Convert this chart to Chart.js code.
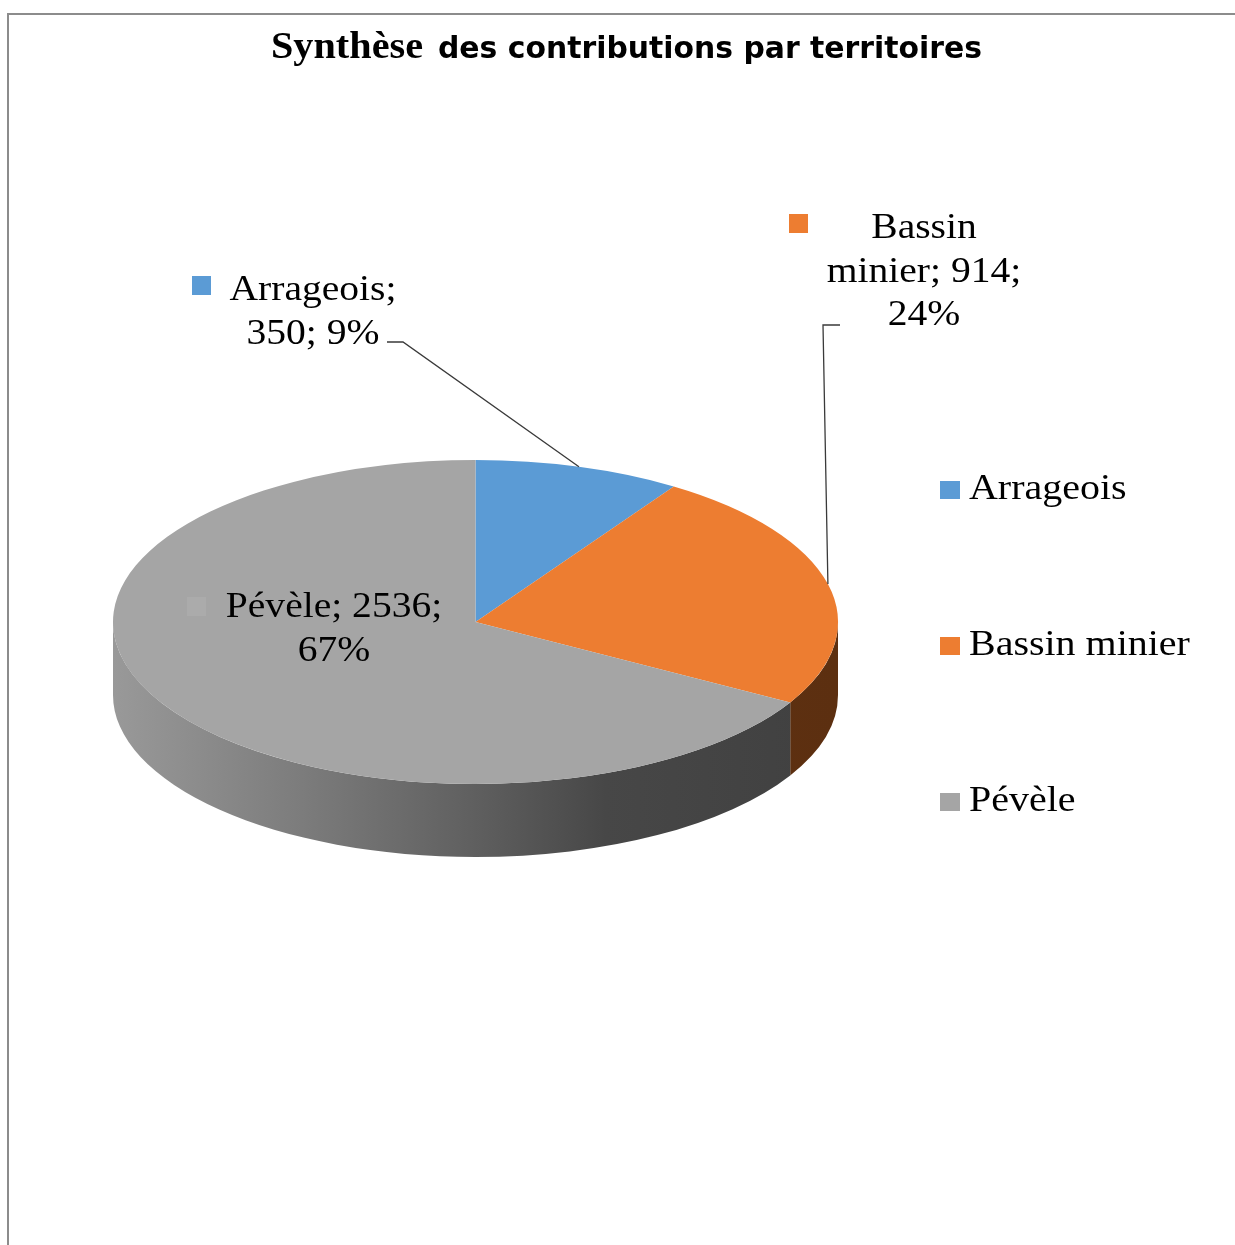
<!DOCTYPE html>
<html>
<head>
<meta charset="utf-8">
<script src="https://cdn.jsdelivr.net/npm/chart.js@4/dist/chart.umd.min.js"></script>
<style>
  html, body { margin: 0; padding: 0; background: #fff; overflow: hidden; }
  #wrap { position: absolute; left: 0; top: 0; width: 1235px; height: 1245px; }
</style>
</head>
<body>
<div id="wrap"><canvas id="chart"></canvas></div>
<script>
// Data
const territoires = ['Arrageois', 'Bassin minier', 'Pévèle'];
const contributions = [350, 914, 2536];
const couleurs = ['#5b9bd5', '#ed7d31', '#a5a5a5'];
const titreSerif = 'Synthèse';
const titreSans = 'des contributions par territoires';

const total = contributions.reduce((a, b) => a + b, 0);
const pourcentages = contributions.map(v => Math.round(v / total * 100) + '%');

// Look of the fake 3D
const SQUASH = 162 / 362.5;
const DEPTH = 73;
const SERIF = '"Liberation Serif", "Times New Roman", Times, serif';
const LABEL_SIZE = 35;
const STRETCH = 1.13;

// Label boxes (wrap width, centre x, first baseline) for each slice
const labelLayout = [
  { wrap: 180, cx: 313, y: 300, marker: [192, 276], lead: [[387, 342], [403, 342]] },
  { wrap: 205, cx: 924, y: 238, marker: [789, 214], lead: [[840, 325], [823, 325]] },
  { wrap: 230, cx: 334, y: 617, marker: [187, 597], lead: null }
];

function stretchedText(ctx, text, x, y, align, sx) {
  ctx.save();
  ctx.translate(x, y);
  ctx.scale(sx, 1);
  ctx.textAlign = align;
  ctx.fillText(text, 0, 0);
  ctx.restore();
}

function fitText(ctx, text, x, y, width) {
  const w = ctx.measureText(text).width;
  stretchedText(ctx, text, x, y, 'left', width / w);
}

function wrapLines(ctx, text, maxWidth) {
  const words = text.split(' ');
  const lines = [];
  let cur = '';
  words.forEach(w => {
    const test = cur ? cur + ' ' + w : w;
    if (cur && ctx.measureText(test).width * STRETCH > maxWidth) {
      lines.push(cur);
      cur = w;
    } else {
      cur = test;
    }
  });
  if (cur) lines.push(cur);
  return lines;
}

function sideGradient(ctx, cx, r, i) {
  const g = ctx.createLinearGradient(cx - r, 0, cx + r, 0);
  if (i === 2) {
    g.addColorStop(0, '#999999');
    g.addColorStop(0.26, '#7c7c7c');
    g.addColorStop(0.5, '#5f5f5f');
    g.addColorStop(0.68, '#474747');
    g.addColorStop(1, '#404040');
  } else if (i === 1) {
    g.addColorStop(0, '#6a3815');
    g.addColorStop(1, '#5c2f10');
  } else {
    g.addColorStop(0, '#2f5a80');
    g.addColorStop(1, '#2a5070');
  }
  return g;
}

const pie3d = {
  id: 'pie3d',
  beforeDraw(chart) {
    const ctx = chart.ctx;
    ctx.save();
    ctx.fillStyle = '#fff';
    ctx.fillRect(0, 0, chart.width, chart.height);
    ctx.strokeStyle = '#8c8c8c';
    ctx.lineWidth = 2;
    ctx.beginPath();
    ctx.moveTo(8, chart.height);
    ctx.lineTo(8, 14);
    ctx.lineTo(chart.width, 14);
    ctx.stroke();
    ctx.restore();
  },
  beforeDatasetsDraw(chart) {
    const ctx = chart.ctx;
    const arcs = chart.getDatasetMeta(0).data;
    const { x: cx, y: cy, outerRadius: r } = arcs[0];
    const ry = r * SQUASH;
    // side wall, front half only
    arcs.forEach((arc, i) => {
      const a1 = Math.max(arc.startAngle, 0);
      const a2 = Math.min(arc.endAngle, Math.PI);
      if (a2 <= a1) return;
      ctx.save();
      ctx.fillStyle = sideGradient(ctx, cx, r, i);
      ctx.beginPath();
      ctx.ellipse(cx, cy, r, ry, 0, a1, a2);
      ctx.ellipse(cx, cy + DEPTH, r, ry, 0, a2, a1, true);
      ctx.closePath();
      ctx.fill();
      ctx.restore();
    });
    // top face: squash the library's arcs
    ctx.save();
    ctx.translate(cx, cy);
    ctx.scale(1, SQUASH);
    ctx.translate(-cx, -cy);
  },
  afterDatasetsDraw(chart) {
    chart.ctx.restore();
  },
  afterDraw(chart) {
    const ctx = chart.ctx;
    const arcs = chart.getDatasetMeta(0).data;
    const { x: cx, y: cy, outerRadius: r } = arcs[0];
    const ry = r * SQUASH;

    // title
    ctx.save();
    ctx.fillStyle = '#000';
    ctx.textBaseline = 'alphabetic';
    ctx.font = 'bold 38px ' + SERIF;
    fitText(ctx, titreSerif, 271, 58, 152);
    ctx.font = 'bold 31px "DejaVu Sans", sans-serif';
    fitText(ctx, titreSans, 438, 58, 544);
    ctx.restore();

    // data labels with leader lines
    ctx.save();
    ctx.font = LABEL_SIZE + 'px ' + SERIF;
    ctx.textBaseline = 'alphabetic';
    arcs.forEach((arc, i) => {
      const lay = labelLayout[i];
      const text = territoires[i] + '; ' + contributions[i] + '; ' + pourcentages[i];
      const lines = wrapLines(ctx, text, lay.wrap);
      ctx.fillStyle = i === 2 ? '#ababab' : couleurs[i];
      ctx.fillRect(lay.marker[0], lay.marker[1], 19, 19);
      ctx.fillStyle = '#000';
      lines.forEach((ln, k) => stretchedText(ctx, ln, lay.cx, lay.y + k * 43.5, 'center', STRETCH));
      if (lay.lead) {
        const mid = (arc.startAngle + arc.endAngle) / 2;
        const ex = cx + r * Math.cos(mid);
        const ey = cy + ry * Math.sin(mid);
        ctx.strokeStyle = '#3a3a3a';
        ctx.lineWidth = 1.3;
        ctx.beginPath();
        ctx.moveTo(lay.lead[0][0], lay.lead[0][1]);
        ctx.lineTo(lay.lead[1][0], lay.lead[1][1]);
        ctx.lineTo(ex, ey);
        ctx.stroke();
      }
    });
    ctx.restore();

    // legend
    ctx.save();
    ctx.font = '36px ' + SERIF;
    ctx.textBaseline = 'alphabetic';
    territoires.forEach((t, i) => {
      const base = 499 + i * 156;
      ctx.fillStyle = couleurs[i];
      ctx.fillRect(940, base - 18, 20, 18);
      ctx.fillStyle = '#000';
      stretchedText(ctx, t, 969, base, 'left', 1.11);
    });
    ctx.restore();
  }
};

new Chart(document.getElementById('chart'), {
  type: 'pie',
  data: {
    labels: territoires,
    datasets: [{
      data: contributions,
      backgroundColor: couleurs,
      borderWidth: 0,
      hoverOffset: 0,
      offset: 0
    }]
  },
  options: {
    responsive: true,
    maintainAspectRatio: false,
    animation: false,
    events: [],
    layout: {
      padding: { left: 113, right: 397, top: 259.5, bottom: 260.5 }
    },
    plugins: {
      legend: { display: false },
      title: { display: false },
      tooltip: { enabled: false }
    }
  },
  plugins: [pie3d]
});
</script>
</body>
</html>
